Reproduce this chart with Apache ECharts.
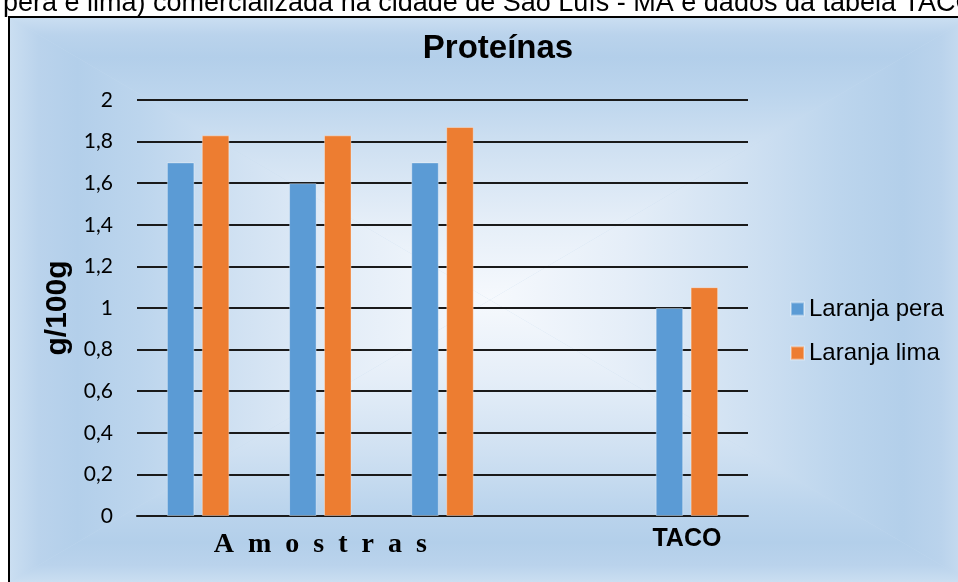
<!DOCTYPE html>
<html>
<head>
<meta charset="utf-8">
<style>
  html, body { margin: 0; padding: 0; background: #ffffff; }
  #chart { width: 958px; height: 582px; }
</style>
<script src="https://cdn.jsdelivr.net/npm/echarts@6/dist/echarts.min.js"></script>
</head>
<body>
<div id="chart"></div>
<script>
// Protein content (g/100g) of two orange varieties: three samples and the TACO reference
const categories = ['', 'A  m  o  s  t  r  a  s', '', '', 'TACO'];
const seriesNames = ['Laranja pera', 'Laranja lima'];
const laranjaPera = [1.7, 1.6, 1.7, null, 1.0];
const laranjaLima = [1.83, 1.83, 1.87, null, 1.1];
const yMin = 0, yMax = 2, yStep = 0.2;
const chartTitle = 'Proteínas';
const yAxisTitle = 'g/100g';
const captionLine = 'pera e lima) comercializada na cidade de São Luís - MA e dados da tabela TACO';

const chart = echarts.init(document.getElementById('chart'), null, { renderer: 'canvas' });

// Chart frame fill: a rectangular "from centre" gradient built from four
// triangles, each shaded along the direction toward its own edge.
const fx0 = 10, fy0 = 18, fx1 = 970, fy1 = 582;
const fcx = 490, fcy = 300;
const edgeToCentre = [
  { offset: 0, color: '#cadef1' },
  { offset: 0.06, color: '#bad3ec' },
  { offset: 0.14, color: '#b3cfea' },
  { offset: 0.27, color: '#bcd5ed' },
  { offset: 0.47, color: '#d0e1f2' },
  { offset: 0.72, color: '#e5eef8' },
  { offset: 1, color: '#f6f9fd' }
];
function wedge(points, x, y, x2, y2) {
  return {
    type: 'polygon',
    z: -100,
    silent: true,
    shape: { points: points },
    style: {
      fill: { type: 'linear', x: x, y: y, x2: x2, y2: y2, global: true, colorStops: edgeToCentre },
      stroke: null
    }
  };
}
const backdrop = [
  {
    type: 'rect', z: -101, silent: true,
    shape: { x: fx0, y: fy0, width: fx1 - fx0, height: fy1 - fy0 },
    style: { fill: '#c6dbef' }
  },
  wedge([[fx0, fy0], [fx1, fy0], [fcx, fcy]], fcx, fy0, fcx, fcy),
  wedge([[fx0, fy1], [fx1, fy1], [fcx, fcy]], fcx, fy1, fcx, fcy),
  wedge([[fx0, fy0], [fx0, fy1], [fcx, fcy]], fx0, fcy, fcx, fcy),
  wedge([[fx1, fy0], [fx1, fy1], [fcx, fcy]], fx1, fcy, fcx, fcy)
];

chart.setOption({
  animation: false,
  backgroundColor: '#ffffff',
  color: ['#5b9bd5', '#ed7d31'],
  graphic: backdrop.concat([
    {
      type: 'rect',
      z: 100,
      shape: { x: 9, y: 17, width: 980, height: 600 },
      style: { fill: 'none', stroke: '#000000', lineWidth: 2 },
      silent: true
    },
    {
      type: 'text',
      z: 100,
      x: 3,
      y: 17,
      style: {
        text: captionLine,
        font: '27px "Liberation Sans", Arial, sans-serif',
        fill: '#000000',
        textVerticalAlign: 'bottom',
        verticalAlign: 'bottom'
      },
      silent: true
    }
  ]),
  title: {
    text: chartTitle,
    left: 498,
    top: 32,
    padding: 0,
    textAlign: 'center',
    textStyle: {
      fontFamily: '"Liberation Sans", Arial, sans-serif',
      fontWeight: 'bold',
      fontSize: 33,
      color: '#000000'
    }
  },
  legend: {
    data: seriesNames,
    orient: 'vertical',
    left: 790,
    top: 297,
    padding: 0,
    itemWidth: 13,
    itemHeight: 13,
    itemGap: 20,
    icon: 'rect',
    textStyle: {
      fontFamily: '"Liberation Sans", Arial, sans-serif',
      fontSize: 24,
      color: '#000000'
    }
  },
  grid: { left: 137, right: 210, top: 100, bottom: 66, containLabel: false },
  xAxis: {
    type: 'category',
    data: categories,
    axisLine: { show: true, lineStyle: { color: '#1a1a1a', width: 2 } },
    axisTick: { show: false },
    axisLabel: {
      interval: 0,
      margin: 10,
      formatter: function (v) {
        if (!v) return '';
        return v === 'TACO' ? '{b|' + v + '}' : '{a|' + v + '}';
      },
      rich: {
        a: {
          fontFamily: '"Liberation Serif", "Times New Roman", serif',
          fontWeight: 'bold',
          fontSize: 28,
          lineHeight: 37,
          color: '#000000'
        },
        b: {
          fontFamily: '"Liberation Sans", Arial, sans-serif',
          fontWeight: 'bold',
          fontSize: 25,
          lineHeight: 27,
          color: '#000000'
        }
      }
    }
  },
  yAxis: {
    type: 'value',
    min: yMin,
    max: yMax,
    interval: yStep,
    name: yAxisTitle,
    nameLocation: 'middle',
    nameRotate: 90,
    nameGap: 57,
    nameTextStyle: {
      fontFamily: '"Liberation Sans", Arial, sans-serif',
      fontWeight: 'bold',
      fontSize: 30,
      color: '#000000'
    },
    axisLine: { show: false },
    axisTick: { show: false },
    axisLabel: {
      margin: 24,
      fontFamily: 'Lato, "Open Sans", sans-serif',
      fontSize: 21,
      color: '#000000',
      formatter: function (v) {
        return String(Math.round(v * 10) / 10).replace('.', ',');
      }
    },
    splitLine: { show: true, lineStyle: { color: '#1a1a1a', width: 2 } }
  },
  series: [
    {
      name: seriesNames[0],
      type: 'bar',
      data: laranjaPera,
      barWidth: 27.5,
      barGap: '27%',
      itemStyle: { color: '#5b9bd5', borderColor: 'rgba(255,255,255,0.35)', borderWidth: 1 }
    },
    {
      name: seriesNames[1],
      type: 'bar',
      data: laranjaLima,
      barWidth: 27.5,
      barGap: '27%',
      itemStyle: { color: '#ed7d31', borderColor: 'rgba(255,255,255,0.35)', borderWidth: 1 }
    }
  ]
});
</script>
</body>
</html>
